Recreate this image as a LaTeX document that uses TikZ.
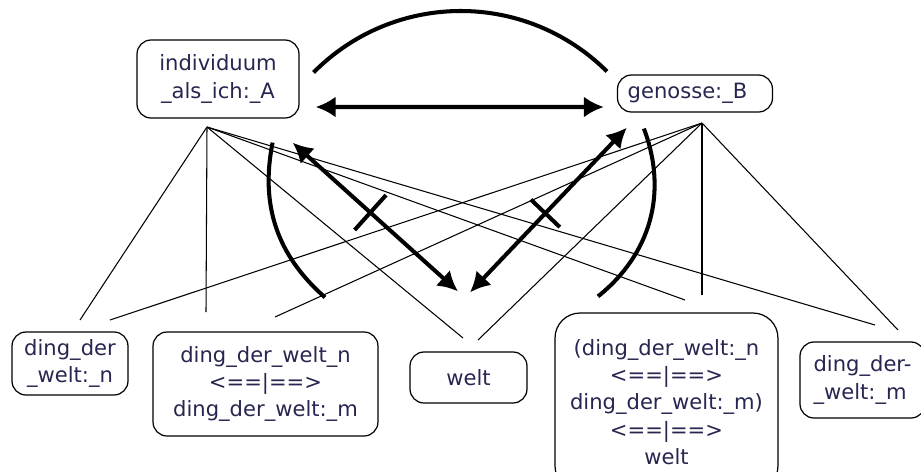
\documentclass[tikz,border=0pt]{standalone}
\usepackage{fontspec}
\setmainfont{DejaVu Sans}
\usetikzlibrary{arrows.meta,calc}
\definecolor{InkBlue}{HTML}{262650}

\begin{document}
\begin{tikzpicture}[
    x=0.02cm, y=-0.02cm,
    item/.style={draw, rounded corners=0.28cm, line width=0.7pt, align=center, inner sep=2pt,
      text=InkBlue, font=\fontsize{12}{15.5}\selectfont},
    fan/.style={line width=0.6pt},
    heavy/.style={line width=2.3pt},
    both/.style={heavy, {Latex[length=4mm,width=4.2mm]}-{Latex[length=4mm,width=4.2mm]}}
  ]
    \useasboundingbox (0,0) rectangle (921,471);
    \clip (0,0) rectangle (921,471);
    % boxes
    \node[item, minimum width=3.24cm, minimum height=1.56cm] (individuum) at (218,79) {individuum\\\_als\_ich:\_A};
    \node[item, minimum width=3.1cm, minimum height=0.74cm] (genosse) at (695,93.5) {genosse:\_B\hspace{0.3cm}};
    \node[item, minimum width=2.32cm, minimum height=1.26cm] (dingn) at (70,363.5) {ding\_der\\\_welt:\_n};
    \node[item, minimum width=4.5cm, minimum height=2.08cm] (paar) at (265.5,384) {ding\_der\_welt\_n\\<==|==>\\ding\_der\_welt:\_m};
    \node[item, minimum width=2.34cm, minimum height=1.02cm] (welt) at (468.5,377.5) {welt};
    \node[item, rounded corners=0.5cm, minimum width=4.46cm, minimum height=3.56cm] (verbund) at (666.5,402)
      {(ding\_der\_welt:\_n\\<==|==>\\ding\_der\_welt:\_m)\\<==|==>\\welt};
    \node[item, align=left, minimum width=2.5cm, minimum height=1.52cm] (dingm) at (862.5,380) {ding\_der-\\\_welt:\_m};
    % thin fan lines
    \coordinate (ifan) at (207,127);
    \coordinate (gfan) at (702,123);
    \foreach \x/\y [count=\i] in {80/320, 206/312, 463/338, 685/300, 875/325}
      \coordinate (iend\i) at (\x,\y);
    \foreach \x/\y [count=\i] in {110/320, 275/317, 478/340, 702/295, 898/330}
      \coordinate (gend\i) at (\x,\y);
    \foreach \i in {1,...,5} {
      \draw[fan] (ifan) -- (iend\i);
      \draw[fan] (gfan) -- (gend\i);
    }
    % heavy arrows
    \coordinate (iw1) at ($(individuum.south east)+(-7,24)$);
    \coordinate (iw2) at ($(welt.north)+(-10.5,-60)$);
    \coordinate (gw1) at ($(genosse.south west)+(10,15)$);
    \coordinate (gw2) at ($(welt.north)+(1.5,-59)$);
    \draw[both] ($(individuum.east)+(16,28)$) -- ($(genosse.west)+(-13,13.5)$);
    \draw[both] (iw1) -- (iw2);
    \draw[both] (gw1) -- (gw2);
    \draw[heavy] ($(iw1)!.47!(iw2)!0.47cm!90:(iw2)$) -- ($(iw1)!.47!(iw2)!0.47cm!-90:(iw2)$);
    \draw[heavy] ($(gw1)!.52!(gw2)!0.4cm!90:(gw2)$) -- ($(gw1)!.52!(gw2)!0.4cm!-90:(gw2)$);
    % arcs
    \draw[heavy] ($(individuum.north east)+(14,33)$) to[bend left=45] ($(genosse.north west)+(-10,-3)$);
    \draw[heavy] ($(individuum.south east)+(-27,24)$) to[bend right=30] ($(paar.north)+(59.5,-34)$);
    \draw[heavy] ($(genosse.south west)+(27,16)$) to[bend left=36] ($(verbund.north)+(-68.5,-16)$);
  \end{tikzpicture}
\end{document}
